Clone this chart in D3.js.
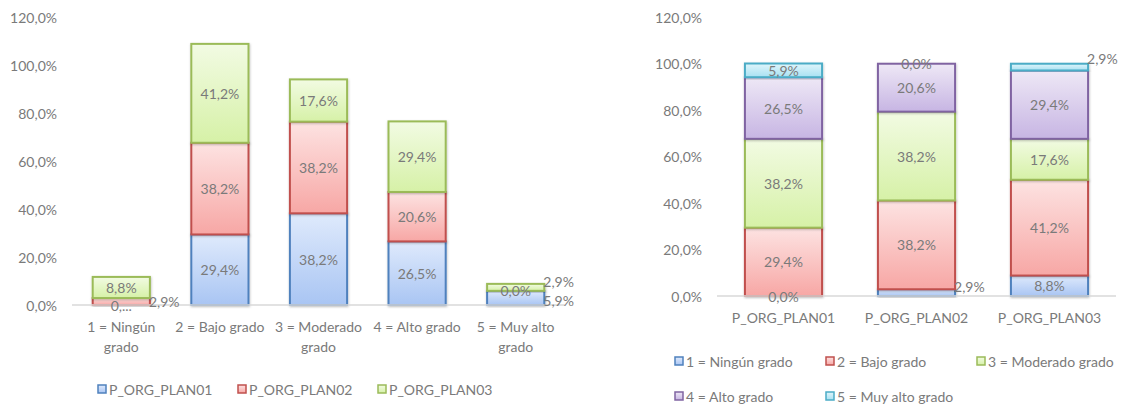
<!DOCTYPE html>
<html>
<head>
<meta charset="utf-8">
<script src="https://cdn.jsdelivr.net/npm/d3@7"></script>
<style>
  body { margin: 0; background: #fff; }
  svg text { font-family: Lato, "Noto Sans", sans-serif; fill: #7a7a7a; }
</style>
</head>
<body>
<svg id="chart" width="1122" height="406"></svg>
<script>
// valores (porcentajes)
const levels = ["1 = Ningún grado", "2 = Bajo grado", "3 = Moderado grado", "4 = Alto grado", "5 = Muy alto grado"];
const plans = ["P_ORG_PLAN01", "P_ORG_PLAN02", "P_ORG_PLAN03"];
const plan01 = [0.0, 29.4, 38.2, 26.5, 5.9];
const plan02 = [2.9, 38.2, 38.2, 20.6, 0.0];
const plan03 = [8.8, 41.2, 17.6, 29.4, 2.9];
const yTicks = [0, 20, 40, 60, 80, 100, 120];

const planValues = [plan01, plan02, plan03];

// estilo tipo Excel: borde + degradado
const palette = [
  {stroke: "#4f81bd", top: "#dfeafc", bottom: "#a9c5f3"},
  {stroke: "#c0504d", top: "#fde3e2", bottom: "#f7a7a5"},
  {stroke: "#9bbb59", top: "#f2fbe3", bottom: "#d6f1a7"},
  {stroke: "#8064a2", top: "#eee8f6", bottom: "#c7b5e3"},
  {stroke: "#4bacc6", top: "#e0f5fb", bottom: "#a8e1f2"}
];

const fmt = v => v.toFixed(1).replace(".", ",") + "%";
const svg = d3.select("#chart");

const defs = svg.append("defs");
palette.forEach((p, i) => {
  const g = defs.append("linearGradient").attr("id", "grad" + i)
    .attr("x1", 0).attr("y1", 0).attr("x2", 0).attr("y2", 1);
  g.append("stop").attr("offset", "0%").attr("stop-color", p.top);
  g.append("stop").attr("offset", "100%").attr("stop-color", p.bottom);
});
defs.append("filter").attr("id", "shadow")
  .attr("x", "-20%").attr("y", "-20%").attr("width", "140%").attr("height", "140%")
  .append("feDropShadow").attr("dx", 0.5).attr("dy", 1).attr("stdDeviation", 1.2)
  .attr("flood-color", "#000").attr("flood-opacity", 0.25);

/**
 * Dibuja un grafico de barras apiladas
 */
function stackedChart(cfg) {
  const rows = cfg.categories.map((c, i) => {
    const r = {cat: c};
    cfg.series.forEach((s, j) => r[s] = cfg.value(i, j));
    return r;
  });

  const x = d3.scaleBand().domain(cfg.categories).range(cfg.xRange)
    .paddingInner(0.42).paddingOuter(0.21);
  const y = d3.scaleLinear().domain([0, 120]).range(cfg.yRange);

  const g = svg.append("g");

  // eje y (solo etiquetas)
  g.selectAll(".ytick").data(yTicks).enter().append("text")
    .attr("x", cfg.yLabelX).attr("y", d => y(d))
    .attr("text-anchor", "end").attr("dominant-baseline", "central")
    .style("font-size", "14px")
    .text(d => fmt(d));

  const stacked = d3.stack().keys(cfg.series)(rows);

  const layer = g.selectAll("g.layer").data(stacked).enter().append("g")
    .attr("class", "layer");

  layer.selectAll("rect").data(d => d.map(e => Object.assign(e, {key: d.key, idx: d.index})))
    .enter().append("rect")
    .attr("x", d => x(d.data.cat))
    .attr("y", d => y(d[1]))
    .attr("width", x.bandwidth())
    .attr("height", d => Math.max(0, y(d[0]) - y(d[1])))
    .attr("fill", d => `url(#grad${d.idx})`)
    .attr("stroke", d => palette[d.idx].stroke)
    .attr("stroke-width", 2)
    .attr("filter", "url(#shadow)")
    .style("display", d => d[1] - d[0] > 0 ? null : "none");

  // linea base
  g.append("line")
    .attr("x1", cfg.xRange[0]).attr("x2", cfg.xRange[1])
    .attr("y1", y(0)).attr("y2", y(0))
    .attr("stroke", "#d9d9d9").attr("stroke-width", 1.3);

  // etiquetas de datos
  const labels = [];
  stacked.forEach(s => s.forEach((e, ci) => labels.push({e, ci, si: s.index})));
  g.selectAll(".dlabel").data(labels).enter().append("text")
    .attr("class", "dlabel")
    .each(function(d) {
      const key = d.ci + "-" + d.si;
      const cy = (y(d.e[0]) + y(d.e[1])) / 2;
      const t = d3.select(this).style("font-size", "14px")
        .attr("dominant-baseline", "central");
      if (key in cfg.outside) {
        t.attr("x", x(d.e.data.cat) + x.bandwidth() - 1)
          .attr("y", cy + cfg.outside[key])
          .attr("text-anchor", "start");
      } else {
        t.attr("x", x(d.e.data.cat) + x.bandwidth() / 2)
          .attr("y", cy)
          .attr("text-anchor", "middle");
      }
      t.text(cfg.textOverride[key] || fmt(d.e[1] - d.e[0]));
    });

  // etiquetas del eje x, con salto de linea
  g.selectAll(".xlabel").data(cfg.categories).enter().append("text")
    .attr("class", "xlabel")
    .attr("text-anchor", "middle")
    .style("font-size", "14px")
    .each(function(c) {
      const t = d3.select(this);
      const words = c.split(" ");
      let lines = [], cur = [];
      words.forEach(w => {
        const test = cur.concat([w]).join(" ");
        t.text(test);
        if (this.getComputedTextLength() > x.step() - 2 && cur.length) {
          lines.push(cur.join(" "));
          cur = [w];
        } else cur.push(w);
      });
      lines.push(cur.join(" "));
      t.text(null);
      lines.forEach((l, i) => t.append("tspan")
        .attr("x", x(c) + x.bandwidth() / 2)
        .attr("y", cfg.xLabelY + i * 20.5)
        .attr("dominant-baseline", "central")
        .text(l));
    });

  // leyenda
  const leg = g.selectAll(".legend").data(cfg.series).enter().append("g")
    .attr("transform", (d, i) => `translate(${cfg.legend[i][0]},${cfg.legend[i][1]})`);
  leg.append("rect")
    .attr("x", 0).attr("y", -4).attr("width", 8).attr("height", 8)
    .attr("fill", (d, i) => `url(#grad${i})`)
    .attr("stroke", (d, i) => palette[i].stroke).attr("stroke-width", 1.5);
  leg.append("text")
    .attr("x", 11).attr("y", 0)
    .attr("dominant-baseline", "central")
    .style("font-size", "14px")
    .text(d => d);
}

// grafico izquierdo: por nivel, series = planes
stackedChart({
  categories: levels,
  series: plans,
  value: (i, j) => planValues[j][i],
  xRange: [72, 565],
  yRange: [305, 17],
  yLabelX: 57,
  xLabelY: 326,
  outside: {"0-1": 0, "4-0": 3, "4-2": -6},
  textOverride: {"0-0": "0,..."},
  legend: [[98, 389], [238, 389], [378, 389]]
});

// grafico derecho: por plan, series = niveles
stackedChart({
  categories: plans,
  series: levels,
  value: (i, j) => planValues[i][j],
  xRange: [717, 1116],
  yRange: [296, 17],
  yLabelX: 702,
  xLabelY: 317,
  outside: {"1-0": -6, "2-4": -9},
  textOverride: {},
  legend: [[675, 361], [826, 361], [977, 361], [675, 396], [826, 396]]
});
</script>
</body>
</html>
